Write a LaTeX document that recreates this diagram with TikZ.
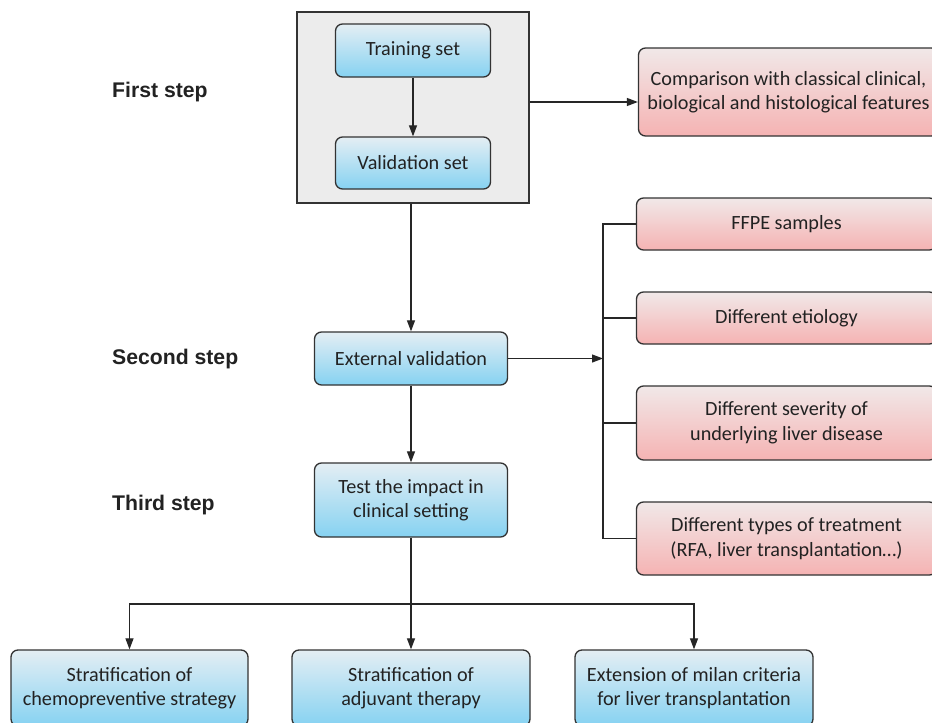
\documentclass[tikz,border=0pt]{standalone}
\usepackage{fontspec}
\setmainfont{Carlito}
\newfontfamily\labelfont{Liberation Sans}
\usetikzlibrary{arrows.meta}
\definecolor{boxline}{HTML}{333333}
\definecolor{textcol}{HTML}{222222}
\definecolor{bluetop}{HTML}{E4EEF3}
\definecolor{bluebot}{HTML}{86D2F2}
\definecolor{pinktop}{HTML}{F1E8E8}
\definecolor{pinkbot}{HTML}{F5B3B3}
\definecolor{groupfill}{HTML}{ECECEC}
\begin{document}
\begin{tikzpicture}[x=1pt,y=-1pt,
  basebox/.style={draw=boxline, line width=1.3pt, rounded corners=7pt, text=textcol,
    align=center, inner sep=0pt, font=\fontsize{20.2}{24.5}\selectfont},
  bluebox/.style={basebox, top color=bluetop, bottom color=bluebot},
  pinkbox/.style={basebox, top color=pinktop, bottom color=pinkbot},
  groupbox/.style={draw=boxline, line width=1.3pt, fill=groupfill, inner sep=0pt},
  steplabel/.style={anchor=west, inner sep=0pt, text=textcol, font=\labelfont\bfseries\fontsize{21.2}{25}\selectfont},
  conn/.style={draw=black!85, line width=1.2pt},
  arr/.style={conn, -{Triangle[length=11pt,width=8pt]}}
]
\useasboundingbox (0,0) rectangle (932,723);
\fill[white] (0,0) rectangle (932,723);
\clip (0,0) rectangle (932,723);

% group box
\node[groupbox, minimum width=232pt, minimum height=191pt] (group) at (413,107.5) {};
\node[bluebox, minimum width=155pt, minimum height=53pt] (train) at (413,50.5) {Training set};
\node[bluebox, minimum width=155pt, minimum height=52pt] (valid) at (413,163) {Validation set};

\node[pinkbox, minimum width=300pt, minimum height=88pt] (comp) at (788.5,92)
  {Comparison with classical clinical,\\biological and histological features};

\node[bluebox, minimum width=193pt, minimum height=53pt] (ext) at (411,358.5) {External validation};
\node[bluebox, minimum width=193pt, minimum height=74pt] (test) at (411,500) {Test the impact in\\clinical setting};

\node[pinkbox, minimum width=300pt, minimum height=52pt] (ffpe) at (786.5,224) {FFPE samples};
\node[pinkbox, minimum width=300pt, minimum height=52pt] (etio) at (786.5,318) {Different etiology};
\node[pinkbox, minimum width=300pt, minimum height=74pt] (sev) at (786.5,423) {Different severity of\\underlying liver disease};
\node[pinkbox, minimum width=300pt, minimum height=73pt] (treat) at (786.5,538.5) {Different types of treatment\\(RFA, liver transplantation\ldots)};

\node[bluebox, minimum width=237pt, minimum height=76pt] (b1) at (129.5,688) {Stratification of\\chemopreventive strategy};
\node[bluebox, minimum width=238pt, minimum height=76pt] (b2) at (411,688) {Stratification of\\adjuvant therapy};
\node[bluebox, minimum width=238pt, minimum height=76pt] (b3) at (694,688) {Extension of milan criteria\\for liver transplantation};

\node[steplabel] (s1) at (112,92) {First step};
\node[steplabel] (s2) at (112,359) {Second step};
\node[steplabel] (s3) at (112,505) {Third step};

% connectors
\draw[arr] (train) -- (valid);
\draw[arr] ([yshift=5.5pt]group.east) -- ([yshift=5.5pt]group.east -| comp.west);
\draw[arr] (group.south -| ext.north) -- (ext.north);
\draw[arr] (ext.south) -- (test.north);

\coordinate (bar) at (603,358.5);
\draw[conn] (ffpe.west) -- (ffpe.west -| bar) -- (treat.west -| bar) -- (treat.west);
\draw[conn] (etio.west) -- (etio.west -| bar);
\draw[conn] (sev.west) -- (sev.west -| bar);
\draw[arr] (ext.east) -- (bar);

\coordinate (split) at (411,604);
\draw[conn] (test.south) -- (split);
\draw[arr] (split) -- (b2.north);
\draw[arr] (split) -| (b1.north);
\draw[arr] (split) -| (b3.north);
\end{tikzpicture}
\end{document}
